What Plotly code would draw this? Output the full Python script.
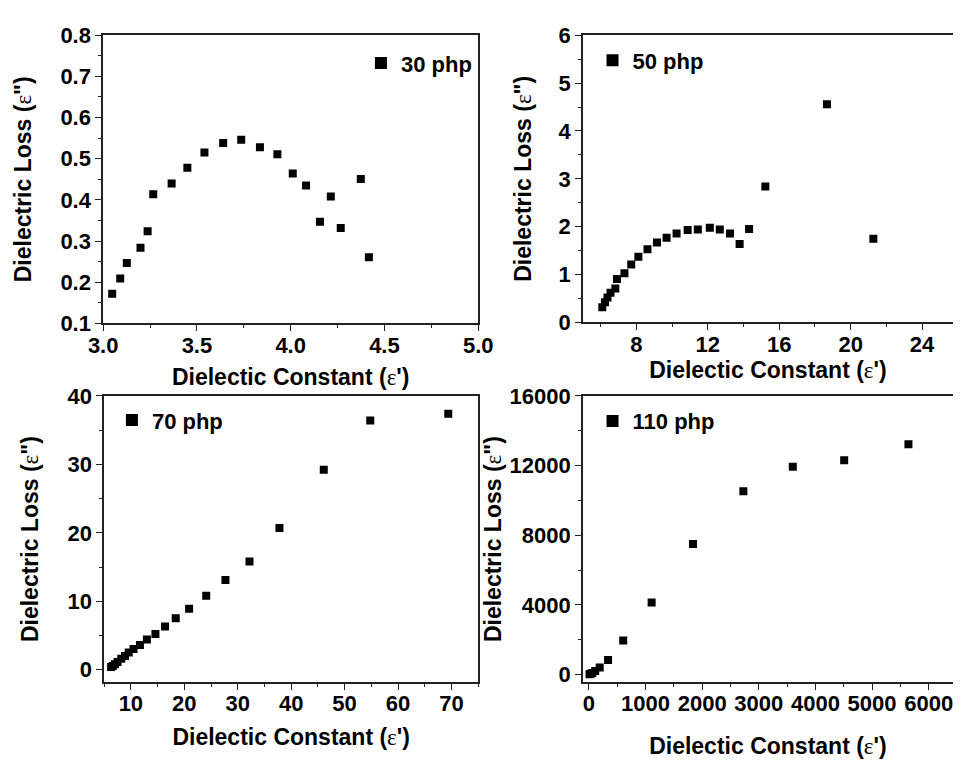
import plotly.graph_objects as go

# ---------------- data ----------------
x30 = [3.048, 3.091, 3.126, 3.199, 3.237, 3.267, 3.365, 3.449, 3.540, 3.640,
       3.736, 3.836, 3.929, 4.011, 4.082, 4.156, 4.214, 4.267, 4.374, 4.417]
y30 = [0.172, 0.209, 0.247, 0.284, 0.324, 0.414, 0.440, 0.478, 0.515, 0.538,
       0.546, 0.528, 0.511, 0.464, 0.435, 0.347, 0.408, 0.332, 0.451, 0.261]

x50 = [6.09, 6.24, 6.38, 6.55, 6.82, 6.91, 7.33, 7.71, 8.11, 8.62, 9.15, 9.69,
       10.25, 10.87, 11.44, 12.11, 12.67, 13.24, 13.78, 14.31, 15.22, 18.67, 21.27]
y50 = [0.32, 0.42, 0.52, 0.62, 0.71, 0.91, 1.03, 1.21, 1.37, 1.53, 1.67, 1.77,
       1.86, 1.93, 1.94, 1.98, 1.94, 1.86, 1.64, 1.95, 2.84, 4.56, 1.75]

x70 = [6.3, 6.6, 7.0, 7.5, 8.2, 8.9, 9.6, 10.5, 11.7, 13.0, 14.6, 16.4, 18.4,
       20.9, 24.1, 27.7, 32.2, 37.8, 46.1, 54.8, 69.4]
y70 = [0.4, 0.55, 0.8, 1.1, 1.6, 2.0, 2.5, 3.0, 3.6, 4.4, 5.2, 6.3, 7.5,
       8.9, 10.8, 13.1, 15.8, 20.7, 29.2, 36.4, 37.4]

x110 = [10, 30, 60, 110, 190, 337, 605, 1107, 1837, 2727, 3600, 4507, 5642]
y110 = [10, 40, 90, 200, 408, 834, 1947, 4135, 7490, 10530, 11940, 12310, 13219]

names = ["30 php", "50 php", "70 php", "110 php"]
xtitle = "Dielectic Constant (<span style='font-weight:normal;font-family:Liberation Serif'>ε</span>')"
ytitle = "Dielectric Loss (<span style='font-weight:normal;font-family:Liberation Serif'>ε</span>\")"

# ---------------- figure ----------------
W, H = 968, 761
FONT = dict(family="Liberation Sans", size=22, color="black", weight="bold")
TFONT = dict(family="Liberation Sans", size=23, color="black", weight="bold")

def px_x(a, b):
    return [a / W, b / W]

def px_y(top, bottom):
    return [1 - bottom / H, 1 - top / H]

fig = go.Figure()
series = [(x30, y30), (x50, y50), (x70, y70), (x110, y110)]
for i, ((xs, ys), nm) in enumerate(zip(series, names)):
    k = "" if i == 0 else str(i + 1)
    fig.add_trace(go.Scatter(
        x=xs, y=ys, mode="markers", name=nm, showlegend=True,
        marker=dict(symbol="square", size=8, color="black"),
        xaxis="x" + k, yaxis="y" + k, legend="legend" + k,
    ))

def axis(domain, rng, dtick, minor_dtick, anchor, mirror=True, tick0=None, title=None,
         standoff=6, tickformat=None, lblstand=0):
    d = dict(
        domain=domain, range=rng, dtick=dtick, anchor=anchor,
        showline=True, linecolor="#222", linewidth=1.6, mirror=mirror,
        ticks="outside", ticklen=6, tickwidth=1.3, tickcolor="#222",
        minor=dict(dtick=minor_dtick, ticks="outside", ticklen=3, tickwidth=1.2, tickcolor="#222"),
        showgrid=False, zeroline=False, tickfont=FONT, exponentformat="none",
        separatethousands=False, ticklabelstandoff=lblstand,
        title=dict(text=title, font=TFONT, standoff=standoff),
    )
    if tickformat:
        d["tickformat"] = tickformat
    if tick0 is not None:
        d["tick0"] = tick0
        d["minor"]["tick0"] = tick0
    return d

layout = dict(
    width=W, height=H, margin=dict(l=0, r=0, t=0, b=0),
    paper_bgcolor="white", plot_bgcolor="white",
    font=FONT, showlegend=True,
)

# panel 1
layout["xaxis"] = axis(px_x(91, 478), [3.0, 5.0], 0.5, 0.25, "y", title=xtitle, standoff=12,
                       tickformat=".1f", lblstand=-5)
layout["yaxis"] = axis(px_y(24, 322), [0.1, 0.8], 0.1, 0.05, "x", title=ytitle, standoff=22, tickformat=".1f")

# panel 2
layout["xaxis2"] = axis(px_x(586, 968), [5.0, 25.73], 4, 2, "y2", tick0=0, title=xtitle, standoff=0,
                        lblstand=-5)
layout["yaxis2"] = axis(px_y(24, 321), [0, 6], 1, 0.5, "x2", mirror=False, title=ytitle, standoff=20)

# panel 3
layout["xaxis3"] = axis(px_x(92, 478), [5.0, 75.0], 10, 5, "y3", title=xtitle, standoff=13, lblstand=-5)
layout["yaxis3"] = axis(px_y(397, 693), [-1.84, 40], 10, 5, "x3", title=ytitle, standoff=22)

# panel 4
layout["xaxis4"] = axis(px_x(586, 968), [-108, 6429], 1000, 500, "y4", tick0=0, title=xtitle,
                        standoff=22, tickformat="d", lblstand=-5)
layout["yaxis4"] = axis(px_y(397, 693), [-444, 16000], 4000, 2000, "x4", mirror=False, title=ytitle,
                        standoff=1, tickformat="d")

def leg(left, cy):
    return dict(x=left / W, y=1 - cy / H, xanchor="left", yanchor="middle",
                bgcolor="rgba(0,0,0,0)", borderwidth=0, font=FONT, visible=True,
                itemsizing="constant")

layout["legend"] = leg(357, 53)
layout["legend2"] = leg(596, 50)
layout["legend3"] = leg(100, 422)
layout["legend4"] = leg(596, 423)

fig.update_layout(**layout)
fig.write_html("out.html")
